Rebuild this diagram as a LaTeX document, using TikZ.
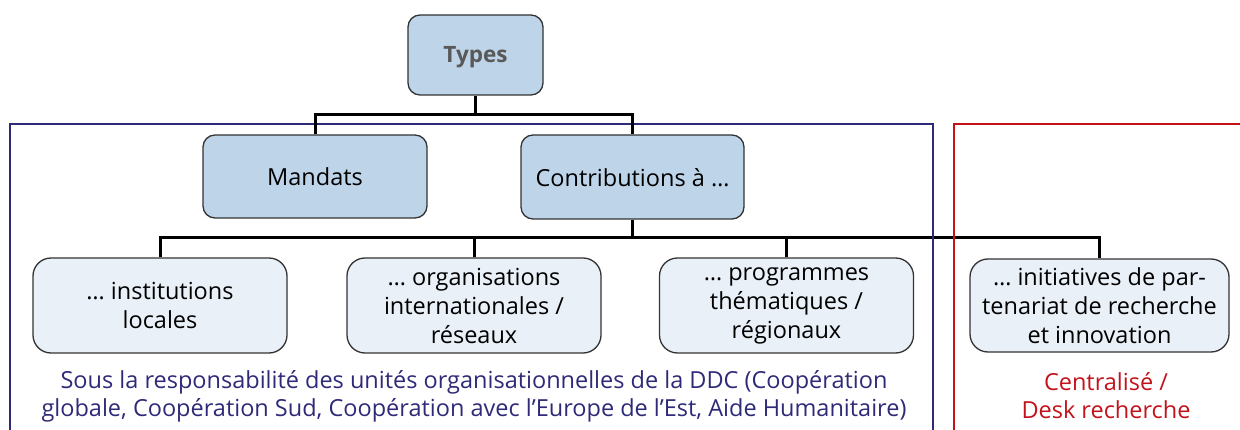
\documentclass[tikz,border=0pt]{standalone}
\usepackage{fontspec}
\setmainfont{Open Sans}
\begin{document}
\definecolor{topfill}{HTML}{BDD4E9}
\definecolor{subfill}{HTML}{E9F0F7}
\definecolor{boxline}{HTML}{333333}
\definecolor{ddcblue}{HTML}{2E2A78}
\definecolor{deskred}{HTML}{C4121B}
\definecolor{typegray}{HTML}{595959}
\begin{tikzpicture}[x=1pt,y=-1pt,
  every node/.style={font=\fontsize{23.5}{29}\selectfont, inner sep=0pt, align=center},
  topbox/.style={draw=boxline, line width=1.3pt, fill=topfill, rounded corners=12pt},
  subbox/.style={draw=boxline, line width=1.3pt, fill=subfill, rounded corners=18pt,
    minimum width=254pt, minimum height=95pt},
  conn/.style={draw=black, line width=3pt},
  frame/.style={line width=2.6pt},
  note/.style={font=\fontsize{23.5}{28}\selectfont}]
\useasboundingbox (0,0) rectangle (1240,430);
\clip (0,0) rectangle (1240,430);

% top level
\node[topbox, minimum width=135pt, minimum height=80pt, text=typegray,
  text height=16pt, text depth=0pt,
  font=\fontsize{22.5}{29}\selectfont\bfseries] (types) at (475.5,55) {Types};
% second level
\node[topbox, minimum width=224pt, minimum height=83pt, text height=19pt, text depth=0pt]
  (mandats) at (315,176.5) {Mandats};
\node[topbox, minimum width=223pt, minimum height=84pt, text height=19pt, text depth=0pt]
  (contrib) at (632.5,177) {Contributions à …};
% third level
\node[subbox] (inst) at (160,305.5) {… institutions\\locales};
\node[subbox] (orga) at (474,305.5) {… organisations\\internationales /\\réseaux};
\node[subbox] (prog) at (786.5,305.5) {… programmes\\thématiques /\\régionaux};
\node[subbox, minimum width=259pt, minimum height=93pt] (init) at (1099.5,305.5)
  {… initiatives de par-\\tenariat de recherche\\et innovation};

% bus lines
\coordinate (busA) at (0,115);
\coordinate (busB) at (0,238);
\draw[conn] (types.south) -- (types.south |- busA);
\draw[conn] (mandats.north) |- (contrib.north |- busA) -- (contrib.north);
\draw[conn] (contrib.south) -- (contrib.south |- busB);
\draw[conn] (inst.north) |- (init.north |- busB) -- (init.north);
\draw[conn] (orga.north) -- (orga.north |- busB);
\draw[conn] (prog.north) -- (prog.north |- busB);

% responsibility frames
\draw[frame, draw=ddcblue] (10,450) -- (10,124) -- (933,124) -- (933,450);
\draw[frame, draw=deskred] (954,450) -- (954,124) -- (1260,124);
\draw[conn] (mandats.north) -- ++(0,-12);
\draw[conn] (contrib.north) -- ++(0,-12);

% captions
\node[note, text=ddcblue] (ddc) at (474,396)
  {Sous la responsabilité des unités organisationnelles de la DDC (Coopération\\
   globale, Coopération Sud, Coopération avec l’Europe de l’Est, Aide Humanitaire)};
\node[note, text=deskred] (desk) at (1106,396) {Centralisé /\\Desk recherche};
\end{tikzpicture}
\end{document}
